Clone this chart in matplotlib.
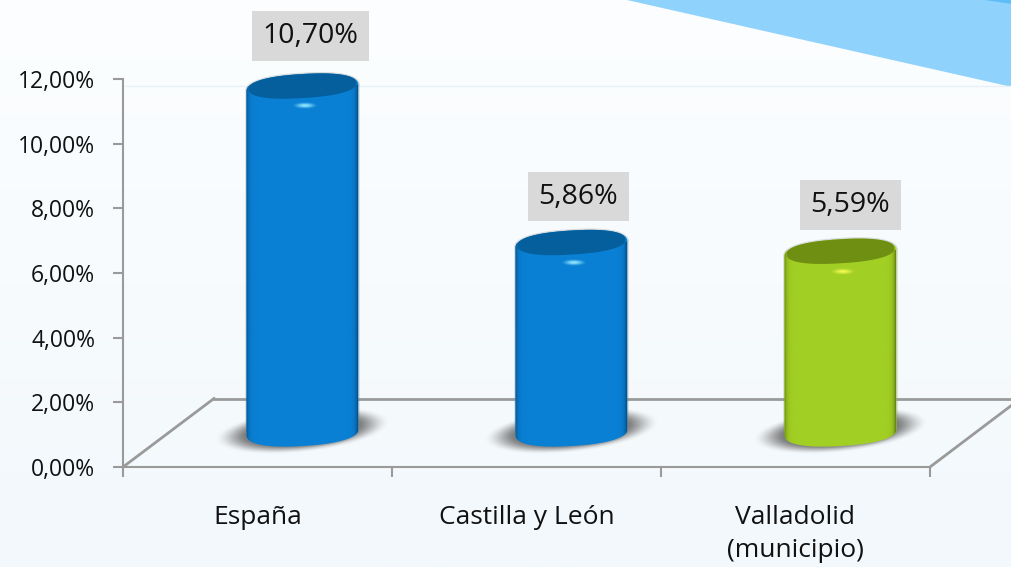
import numpy as np
import matplotlib
matplotlib.use("Agg")
import matplotlib.pyplot as plt
from matplotlib.path import Path
from matplotlib.patches import PathPatch, Polygon

categories = ["España", "Castilla y León", "Valladolid\n(municipio)"]
values = [10.70, 5.86, 5.59]
value_labels = ["10,70%", "5,86%", "5,59%"]
y_ticks = [0, 2, 4, 6, 8, 10, 12]
y_tick_labels = ["0,00%", "2,00%", "4,00%", "6,00%", "8,00%", "10,00%", "12,00%"]
body_colors = ["#0A80D4", "#0A80D4", "#A2CF24"]
top_colors = ["#045F9C", "#045F9C", "#6F8F12"]
edge_colors = ["#064A80", "#064A80", "#5E7A10"]
glow_colors = ["#8FE6FF", "#8FE6FF", "#F0FA50"]
label_offsets_px = [(8, 50), (7, 46), (10, 46)]

W, H = 1012, 567
plt.rcParams["font.family"] = ["Open Sans", "DejaVu Sans"]
fig = plt.figure(figsize=(W / 100, H / 100), dpi=100)

# Background layer in pixel space
bg = fig.add_axes([0, 0, 1, 1], zorder=0)
bg.set_xlim(0, W); bg.set_ylim(H, 0); bg.axis("off")
c0 = np.array([0xFC, 0xFE, 0xFF]); c1 = np.array([0xF2, 0xF8, 0xFC])
grad = np.linspace(0, 1, 256)[:, None, None] * (c1 - c0) + c0
bg.imshow(grad / 255, extent=(0, W, H, 0), aspect="auto", zorder=0)
bg.add_patch(Polygon([(627, 0), (1012, 87), (1012, 0)], closed=True, fc="#8FD2FB", ec="none", zorder=1))
bg.add_patch(Polygon([(985, 0), (1012, 4), (1012, 0)], closed=True, fc="#5DBDF7", ec="none", zorder=2))
bg.plot([125, 1012], [86, 86], color="#E6F1F8", lw=1, zorder=2)
floor = "#9A9A9A"
bg.plot([214, 1012], [398.5, 398.5], color=floor, lw=2, zorder=2)
bg.plot([123, 214], [467, 398.5], color=floor, lw=2, zorder=2)
bg.plot([930, 1012], [467, 405], color=floor, lw=2, zorder=2)
bg.set_xlim(0, W); bg.set_ylim(H, 0)

# Main chart
ax = fig.add_axes([123 / W, (H - 467) / H, 807 / W, 388 / H], zorder=2)
ax.patch.set_alpha(0)
ax.set_xlim(-0.5, 2.5); ax.set_ylim(0, 12)
for s in ("top", "right"):
    ax.spines[s].set_visible(False)
for s in ("left", "bottom"):
    ax.spines[s].set_color(floor); ax.spines[s].set_linewidth(1.5)
ax.set_yticks(y_ticks, y_tick_labels, fontsize=16.5, color="#111111")
ax.set_xticks(np.arange(len(categories)), categories, fontsize=19, color="#111111", linespacing=1.47)
ax.set_xticks(np.arange(len(categories) + 1) - 0.5, minor=True)
ax.tick_params(axis="x", which="major", length=0, pad=27)
ax.tick_params(axis="x", which="minor", length=7, color=floor, width=1.5)
ax.tick_params(axis="y", length=7, color=floor, width=1.5, pad=13)

PX = 807 / 3            # px per category
PY = 388 / 12           # px per unit
dx = 45 / PX            # depth shift of the bars
base = 35 / PY          # depth lift of the bars
bw = 112 / PX
tilt = np.deg2rad(3.5)


def ell(cx, cy, rx, ry, t0=0, t1=2 * np.pi, power=1.0):
    """Tilted rounded ellipse (rising to the right), radii in px, centre in data units."""
    t = np.linspace(t0, t1, 120)
    c = np.sign(np.cos(t)) * np.abs(np.cos(t)) ** power
    s = np.sign(np.sin(t)) * np.abs(np.sin(t)) ** power
    px = rx * c * np.cos(tilt) - ry * s * np.sin(tilt)
    py = rx * c * np.sin(tilt) + ry * s * np.cos(tilt)
    return np.column_stack([cx + px / PX, cy + py / PY])


def blob(cx, cy, rx, ry, color, peak, z, slope=0.0, soft=0.45):
    """Soft spot fading out at r = 1; radii in px, centre in data units."""
    xs = np.linspace(-1.3, 1.3, 200)
    X, Y = np.meshgrid(xs, xs)
    v = (Y * ry - X * rx * slope) / ry
    r = np.hypot(X, v)
    f = np.clip((1.05 - r) / soft, 0, 1)
    a = peak * f * f * (3 - 2 * f)
    rgba = np.zeros(a.shape + (4,))
    rgba[..., :3] = matplotlib.colors.to_rgb(color)
    rgba[..., 3] = a
    ax.imshow(rgba, extent=(cx - 1.3 * rx / PX, cx + 1.3 * rx / PX, cy - 1.3 * ry / PY, cy + 1.3 * ry / PY),
              origin="lower", aspect="auto", zorder=z, interpolation="bilinear", clip_on=False)


for i, v in enumerate(values):
    xc = i + dx
    top = base + v
    # floor shadow
    blob(xc, base + 1 / PY, 84, 21, "#6A6A6A", 0.95, 2, slope=np.tan(tilt) * 1.6)
    # body outline: rounded shoulders and rounded foot
    upper = ell(xc, top - 2 / PY, 56, 14, 0, np.pi, power=0.85)
    cap = ell(xc, base, 56, 14, np.pi, 2 * np.pi, power=0.85)
    outline = np.vstack([upper, cap, upper[:1]])
    clip = PathPatch(Path(outline), transform=ax.transData, fc="none", ec="none")
    ax.add_patch(clip)
    clip.set_clip_on(False)
    ax.plot(outline[:, 0], outline[:, 1], color="#8A8A8A", lw=2.0, alpha=0.28, zorder=2.5, clip_on=False)
    ax.fill(outline[:, 0], outline[:, 1], color=body_colors[i], lw=0, zorder=3, clip_on=False)
    bars = ax.bar(xc, v, width=bw, bottom=base, color=body_colors[i], zorder=3)
    bars[0].set_clip_path(clip)
    # side shading clipped to the body outline
    xx = np.linspace(0, 112, 224)
    alpha = np.maximum(np.exp(-xx / 2.2), np.exp(-(xx[-1] - xx) / 2.2)) * 0.95
    shade = np.zeros((1, xx.size, 4))
    shade[..., :3] = matplotlib.colors.to_rgb(edge_colors[i])
    shade[..., 3] = alpha
    im = ax.imshow(shade, extent=(xc - bw / 2, xc + bw / 2, base - 1, top), aspect="auto", zorder=4)
    im.set_clip_path(clip)
    # top lid
    lid = ell(xc, top, 54, 12, power=0.85)
    ax.fill(lid[:, 0], lid[:, 1], color=top_colors[i], lw=0, zorder=6, clip_on=False)
    # glint
    blob(xc + 2 / PX, top - 20 / PY, 13, 3.4, glow_colors[i], 1.0, 7, soft=1.0)
    # value label
    ox, oy = label_offsets_px[i]
    ax.annotate(value_labels[i], xy=(xc, top), xytext=(ox * 0.72, oy * 0.72), textcoords="offset points",
                ha="center", va="center", fontsize=20.5, color="#111111", zorder=8,
                bbox=dict(boxstyle="square,pad=0.38", fc="#D9D9D9", ec="none"))

ax.set_xlim(-0.5, 2.5); ax.set_ylim(0, 12)
fig.savefig("out.png", dpi=100)
